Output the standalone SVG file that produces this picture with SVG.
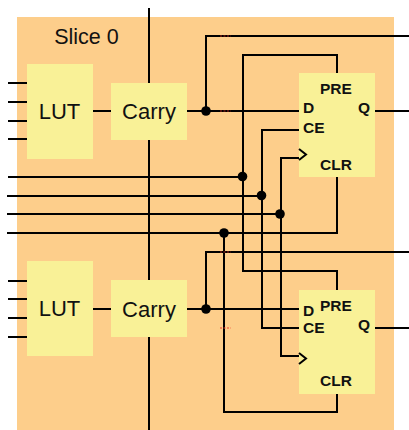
<svg xmlns="http://www.w3.org/2000/svg" width="409" height="430" viewBox="0 0 409 430">
<style>
.b{fill:#f9f197}
.w{fill:none;stroke:#000;stroke-width:2}
.r{fill:none;stroke:#a82018;stroke-width:1.200;stroke-dasharray:2 1.500}
.t{font-family:"Liberation Sans",Arial,sans-serif;font-size:22px;fill:#111;text-anchor:middle}
.f{font-family:"Liberation Sans",Arial,sans-serif;font-size:15.500px;font-weight:bold;fill:#111}
</style>
<rect id="slice" x="17" y="17" width="377" height="413" fill="#fdce8b"/>
<text class="t" x="86.500" y="44" style="font-size:21.500px">Slice 0</text>
<g id="connectors">
<path class="w" d="M149 8V83M149 140V280M149 337V430"/>
<path class="w" d="M8 83H27M8 102H27M8 121H27M8 139H27M8 281H27M8 299H27M8 318H27M8 337H27"/>
<path class="w" d="M93 111H111M93 309H111"/>
<path class="w" d="M187 111H299M206 111V36H409M375 111H409"/>
<path class="w" d="M187 309H299M206 309V252H409M375 328H409"/>
<path class="w" d="M8 177H243M7 196H262M7 214H281M7 233H337V177"/>
<path class="w" d="M243 177V55H337V73M243 177V271H337V290"/>
<path class="w" d="M299 130H262V328H299"/>
<path class="w" d="M299 158H281V356H299"/>
<path class="w" d="M224 233V412H337V394"/>
<path class="r" d="M220 36H231M220 111H231M220 252H231"/>
<path class="r" d="M220 328H231" style="stroke:#f04030"/>
<g fill="#000"><circle cx="206" cy="111" r="4.800"/><circle cx="206" cy="309" r="4.800"/><circle cx="242.500" cy="176.500" r="4.800"/><circle cx="261.500" cy="195.500" r="4.800"/><circle cx="280" cy="214" r="4.800"/><circle cx="224" cy="233" r="4.800"/></g>
</g>
<g id="lut1"><rect class="b" x="27" y="64" width="66" height="95"/><text class="t" x="59.500" y="118.500">LUT</text></g>
<g id="carry1"><rect class="b" x="111" y="83" width="76" height="57"/><text class="t" x="149" y="118.500">Carry</text></g>
<g id="ff1"><rect class="b" x="299" y="73" width="76" height="104"/>
<path class="w" d="M299 149L306 154.500L299 160"/>
<text class="f" x="320" y="94">PRE</text><text class="f" x="303" y="113">D</text><text class="f" x="303" y="132.500">CE</text><text class="f" x="358" y="113">Q</text><text class="f" x="320" y="170">CLR</text></g>
<g id="lut2"><rect class="b" x="27" y="261" width="66" height="95"/><text class="t" x="59.500" y="316">LUT</text></g>
<g id="carry2"><rect class="b" x="111" y="280" width="76" height="57"/><text class="t" x="149" y="316.500">Carry</text></g>
<g id="ff2"><rect class="b" x="299" y="290" width="76" height="104"/>
<path class="w" d="M299 353L306 358.500L299 364"/>
<text class="f" x="320" y="311">PRE</text><text class="f" x="303" y="316">D</text><text class="f" x="303" y="332.500">CE</text><text class="f" x="358" y="330">Q</text><text class="f" x="320" y="386">CLR</text></g>
</svg>
